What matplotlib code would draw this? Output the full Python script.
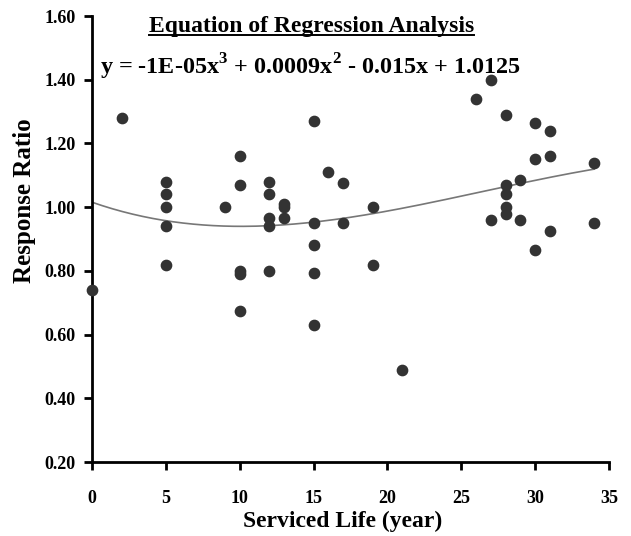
import numpy as np
import matplotlib.pyplot as plt

# serviced life (years) and response ratio
life = [0, 2, 5, 5, 5, 5, 5, 9, 10, 10, 10, 10, 10,
        12, 12, 12, 12, 12, 13, 13, 13, 15, 15, 15, 15, 15,
        16, 17, 17, 19, 19, 21, 26, 27, 27, 28, 28, 28, 28, 28,
        29, 29, 30, 30, 30, 31, 31, 31, 34, 34]
ratio = [0.74, 1.28, 1.08, 1.04, 1.00, 0.94, 0.82, 1.00, 1.16, 1.07, 0.80, 0.79, 0.675,
         1.08, 1.04, 0.965, 0.94, 0.80, 1.01, 1.00, 0.965, 1.27, 0.95, 0.88, 0.795, 0.63,
         1.11, 1.075, 0.95, 1.00, 0.82, 0.49, 1.34, 1.40, 0.96, 1.29, 1.07, 1.04, 1.00, 0.98,
         1.085, 0.96, 1.265, 1.15, 0.865, 1.24, 1.16, 0.925, 1.14, 0.95]

xticks = [0, 5, 10, 15, 20, 25, 30, 35]
yticks = [0.20, 0.40, 0.60, 0.80, 1.00, 1.20, 1.40, 1.60]

plt.rcParams['font.family'] = ['Liberation Serif', 'DejaVu Serif']
plt.rcParams['mathtext.fontset'] = 'custom'
plt.rcParams['mathtext.rm'] = 'Liberation Serif:bold'

fig = plt.figure(figsize=(6.31, 5.36), dpi=100)
ax = fig.add_axes([0.146, 0.138, 0.819, 0.832])

# cubic trend line (excel style) fitted on the points
coef = np.polyfit(life, ratio, 3)
xs = np.linspace(min(life), max(life), 200)
ax.plot(xs, np.polyval(coef, xs), color='#777777', lw=1.2, zorder=2)

ax.scatter(life, ratio, s=55, color='#333333', marker='o', zorder=3, clip_on=False)

ax.set_xlim(0, 35)
ax.set_ylim(0.2, 1.6)
ax.set_xticks(xticks)
ax.set_yticks(yticks)
ax.set_yticklabels(['%.2f' % v for v in yticks])
for s in ['top', 'right']:
    ax.spines[s].set_visible(False)
for s in ['left', 'bottom']:
    ax.spines[s].set_linewidth(2)
ax.tick_params(direction='out', length=6, width=2, labelsize=13, pad=6)
ax.tick_params(axis='x', pad=14)
for lab in ax.get_xticklabels() + ax.get_yticklabels():
    lab.set_fontweight('bold')

ax.set_xlabel('Serviced Life (year)', fontsize=17, fontweight='bold')
ax.xaxis.set_label_coords(0.484, -0.11)
ax.set_ylabel('Response Ratio', fontsize=18, fontweight='bold')
ax.yaxis.set_label_coords(-0.109, 0.585)

title = ax.text(0.424, 0.976, 'Equation of Regression Analysis',
                transform=ax.transAxes, ha='center', va='center',
                fontsize=17, fontweight='bold')
ax.text(0.015, 0.886, r'y = -1E-05x$^{\rm 3}$ + 0.0009x$^{\rm 2}$ - 0.015x + 1.0125',
        transform=ax.transAxes, ha='left', va='center', fontsize=17.4, fontweight='bold')

# underline the title
fig.canvas.draw()
bb = title.get_window_extent().transformed(ax.transAxes.inverted())
ax.plot([bb.x0, bb.x1], [bb.y0 + 0.004, bb.y0 + 0.004], transform=ax.transAxes,
        color='black', lw=1.4, clip_on=False)

fig.savefig('out.png', dpi=100)
